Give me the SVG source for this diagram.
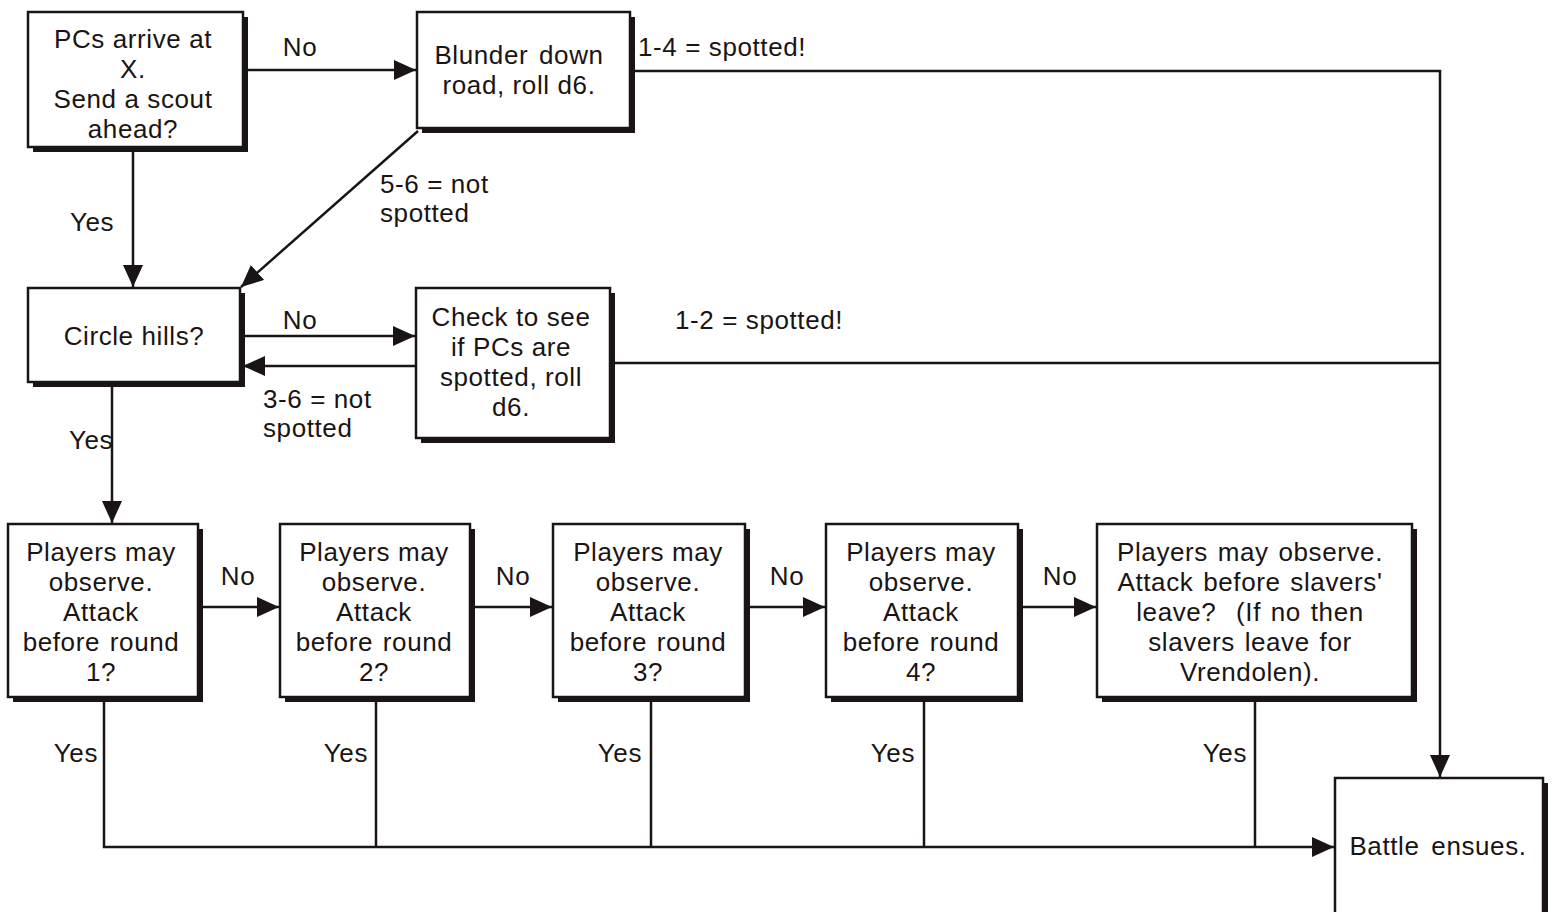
<svg xmlns="http://www.w3.org/2000/svg" width="1558" height="912" viewBox="0 0 1558 912">
<style>
  .sh { fill: #1a1414; }
  .bx { fill: #ffffff; stroke: #1a1414; stroke-width: 2.5; }
  text { font-family: "Liberation Sans", Arial, sans-serif; font-size: 26px; letter-spacing: 0.6px; fill: #1a1414; }
  .c { text-anchor: middle; }
  .ln { fill: none; stroke: #1a1414; stroke-width: 2.5; }
</style>
<defs>
  <marker id="ah" markerUnits="userSpaceOnUse" markerWidth="24" markerHeight="20" refX="22" refY="10" orient="auto">
    <path d="M0,0 L22,10 L0,20 Z" fill="#1a1414"/>
  </marker>
</defs>

<g id="connectors">
  <line class="ln" x1="243" y1="70" x2="416" y2="70" marker-end="url(#ah)"/>
  <line class="ln" x1="133" y1="150" x2="133" y2="287" marker-end="url(#ah)"/>
  <line class="ln" x1="418" y1="131" x2="241" y2="287" marker-end="url(#ah)"/>
  <polyline class="ln" points="633,71 1440,71 1440,777" marker-end="url(#ah)"/>
  <line class="ln" x1="240" y1="336" x2="415" y2="336" marker-end="url(#ah)"/>
  <line class="ln" x1="416" y1="366" x2="243" y2="366" marker-end="url(#ah)"/>
  <line class="ln" x1="613" y1="363" x2="1440" y2="363"/>
  <line class="ln" x1="112" y1="386" x2="112" y2="523" marker-end="url(#ah)"/>
  <line class="ln" x1="201" y1="607" x2="279" y2="607" marker-end="url(#ah)"/>
  <line class="ln" x1="473" y1="607" x2="552" y2="607" marker-end="url(#ah)"/>
  <line class="ln" x1="748" y1="607" x2="825" y2="607" marker-end="url(#ah)"/>
  <line class="ln" x1="1021" y1="607" x2="1096" y2="607" marker-end="url(#ah)"/>
  <polyline class="ln" points="104,701 104,847 1334,847" marker-end="url(#ah)"/>
  <line class="ln" x1="376" y1="701" x2="376" y2="847"/>
  <line class="ln" x1="651" y1="701" x2="651" y2="847"/>
  <line class="ln" x1="924" y1="701" x2="924" y2="847"/>
  <line class="ln" x1="1255" y1="701" x2="1255" y2="847"/>

  <text x="300" y="56" class="c">No</text>
  <text x="92" y="231" class="c">Yes</text>
  <text x="380" y="193">5-6 = not</text>
  <text x="380" y="222">spotted</text>
  <text x="638" y="56">1-4 = spotted!</text>
  <text x="300" y="329" class="c">No</text>
  <text x="263" y="408">3-6 = not</text>
  <text x="263" y="437">spotted</text>
  <text x="675" y="329">1-2 = spotted!</text>
  <text x="69" y="449">Yes</text>
  <text x="238" y="585" class="c">No</text>
  <text x="513" y="585" class="c">No</text>
  <text x="787" y="585" class="c">No</text>
  <text x="1060" y="585" class="c">No</text>
  <text x="98" y="762" text-anchor="end">Yes</text>
  <text x="368" y="762" text-anchor="end">Yes</text>
  <text x="642" y="762" text-anchor="end">Yes</text>
  <text x="915" y="762" text-anchor="end">Yes</text>
  <text x="1247" y="762" text-anchor="end">Yes</text>
</g>

<g id="n-arrive">
  <rect class="sh" x="33" y="17" width="215" height="135"/>
  <rect class="bx" x="28" y="12" width="215" height="135"/>
  <text x="133" y="48" class="c">PCs arrive at</text>
  <text x="133" y="78" class="c">X.</text>
  <text x="133" y="108" class="c">Send a scout</text>
  <text x="133" y="138" class="c">ahead?</text>
</g>

<g id="n-blunder">
  <rect class="sh" x="422" y="17" width="213" height="116"/>
  <rect class="bx" x="417" y="12" width="213" height="116"/>
  <text x="519" y="64" class="c" word-spacing="3">Blunder down</text>
  <text x="519" y="94" class="c">road, roll d6.</text>
</g>

<g id="n-circle">
  <rect class="sh" x="33" y="293" width="212" height="94"/>
  <rect class="bx" x="28" y="288" width="212" height="94"/>
  <text x="134" y="345" class="c">Circle hills?</text>
</g>

<g id="n-check">
  <rect class="sh" x="421" y="293" width="194" height="150"/>
  <rect class="bx" x="416" y="288" width="194" height="150"/>
  <text x="511" y="326" class="c">Check to see</text>
  <text x="511" y="356" class="c">if PCs are</text>
  <text x="511" y="386" class="c">spotted, roll</text>
  <text x="511" y="416" class="c">d6.</text>
</g>

<g id="n-round1">
  <rect class="sh" x="13" y="529" width="190" height="173"/>
  <rect class="bx" x="8" y="524" width="190" height="173"/>
  <text x="101" y="561" class="c">Players may</text>
  <text x="101" y="591" class="c">observe.</text>
  <text x="101" y="621" class="c">Attack</text>
  <text x="101" y="651" class="c" word-spacing="2">before round</text>
  <text x="101" y="681" class="c">1?</text>
</g>

<g id="n-round2">
  <rect class="sh" x="285" y="529" width="190" height="173"/>
  <rect class="bx" x="280" y="524" width="190" height="173"/>
  <text x="374" y="561" class="c">Players may</text>
  <text x="374" y="591" class="c">observe.</text>
  <text x="374" y="621" class="c">Attack</text>
  <text x="374" y="651" class="c" word-spacing="2">before round</text>
  <text x="374" y="681" class="c">2?</text>
</g>

<g id="n-round3">
  <rect class="sh" x="558" y="529" width="192" height="173"/>
  <rect class="bx" x="553" y="524" width="192" height="173"/>
  <text x="648" y="561" class="c">Players may</text>
  <text x="648" y="591" class="c">observe.</text>
  <text x="648" y="621" class="c">Attack</text>
  <text x="648" y="651" class="c" word-spacing="2">before round</text>
  <text x="648" y="681" class="c">3?</text>
</g>

<g id="n-round4">
  <rect class="sh" x="831" y="529" width="192" height="173"/>
  <rect class="bx" x="826" y="524" width="192" height="173"/>
  <text x="921" y="561" class="c">Players may</text>
  <text x="921" y="591" class="c">observe.</text>
  <text x="921" y="621" class="c">Attack</text>
  <text x="921" y="651" class="c" word-spacing="2">before round</text>
  <text x="921" y="681" class="c">4?</text>
</g>

<g id="n-slavers">
  <rect class="sh" x="1102" y="529" width="315" height="173"/>
  <rect class="bx" x="1097" y="524" width="315" height="173"/>
  <text x="1250" y="561" class="c" word-spacing="2">Players may observe.</text>
  <text x="1250" y="591" class="c" word-spacing="2">Attack before slavers'</text>
  <text x="1250" y="621" class="c" xml:space="preserve" word-spacing="2">leave?  (If no then</text>
  <text x="1250" y="651" class="c" word-spacing="2">slavers leave for</text>
  <text x="1250" y="681" class="c">Vrendolen).</text>
</g>

<g id="n-battle">
  <rect class="sh" x="1340" y="783" width="208" height="140"/>
  <rect class="bx" x="1335" y="778" width="208" height="140"/>
  <text x="1438" y="855" class="c" word-spacing="4">Battle ensues.</text>
</g>
</svg>
